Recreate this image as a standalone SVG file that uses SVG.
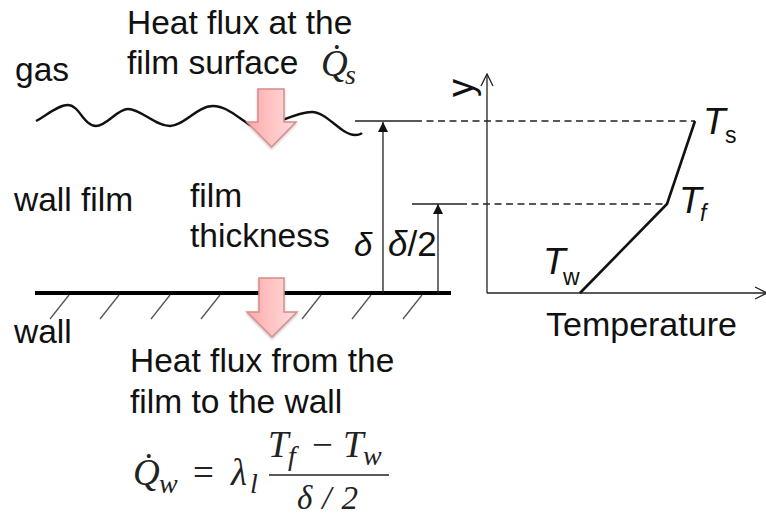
<svg xmlns="http://www.w3.org/2000/svg" width="766" height="517" viewBox="0 0 766 517">
<style>
.t{font-family:"Liberation Sans",Arial,sans-serif;font-size:33.5px;fill:#111}
.i{font-style:italic}
.m{font-family:"Liberation Serif","DejaVu Serif",serif;font-size:37px;fill:#222}
.ln{fill:none;stroke:#222;stroke-width:1.3}
.da{fill:none;stroke:#222;stroke-width:1.3;stroke-dasharray:7 4.5}
.h{fill:none;stroke:#555;stroke-width:1.3}
.ar{fill:url(#pink);stroke:#d98a8a;stroke-width:1.5;filter:url(#sh)}
</style>
<defs>
<linearGradient id="pink" x1="0" x2="1" y1="0" y2="0"><stop offset="0" stop-color="#ffa8a8"/><stop offset="0.5" stop-color="#ffc4c4"/><stop offset="1" stop-color="#ffdcdc"/></linearGradient>
<filter id="sh" x="-20%" y="-20%" width="140%" height="140%"><feDropShadow dx="0" dy="1.5" stdDeviation="1.2" flood-color="#000" flood-opacity="0.25"/></filter>
<marker id="fa" viewBox="0 0 10 10" refX="10" refY="5" markerWidth="10" markerHeight="10" markerUnits="userSpaceOnUse" orient="auto"><path d="M0 0L10 5L0 10Z" fill="#111"/></marker>
<marker id="oa" viewBox="0 0 14 14" refX="13" refY="7" markerWidth="14" markerHeight="14" markerUnits="userSpaceOnUse" orient="auto"><path d="M1 1L13 7L1 13" fill="none" stroke="#222" stroke-width="1.3"/></marker>
</defs>
<g id="connectors">
<path id="wave" fill="none" stroke="#111" stroke-width="2.4" d="M36 121C47 115 58 105 68 105C79 105 84 126 96 126C107 126 117 109 128 109C141 109 155 126 170 126C184 126 197 106 213 106C226 106 236 116 250 125C264 134 290 112 312 112C327 112 341 135 355 135Q360 135 362 133"/>
<path id="wall" fill="none" stroke="#000" stroke-width="4" d="M35 293H451"/>
<path class="h" d="M69 295L50 319M119 295L100 319M170 295L151 319M220 295L201 319M321 295L302 319M371 295L352 319M422 295L403 319"/>
<path class="ln" d="M355 121H415M412 204H460"/>
<path class="da" d="M415 121H695M460 204H667"/>
<path class="ln" marker-end="url(#fa)" d="M383 293V122"/>
<path class="ln" marker-end="url(#fa)" d="M438 293V204"/>
<path class="ln" marker-end="url(#oa)" d="M487 293V74"/>
<path class="ln" marker-end="url(#oa)" d="M487 293H767"/>
<path id="profile" fill="none" stroke="#111" stroke-width="2.6" d="M580 293L667 204L695 121"/>
</g>
<g id="top-flux"><path class="ar" d="M258 89H284V122H296L271.500 147L247 122H258Z"/></g>
<g id="wall-flux"><path class="ar" d="M259 278H284V312H297L272 337L247 312H259Z"/></g>
<g id="labels">
<text class="t" x="127" y="34">Heat flux at the</text>
<text class="t" x="127" y="74">film surface</text>
<text class="t" x="15" y="81">gas</text>
<text class="t" x="14" y="211">wall film</text>
<text class="t" x="190" y="207">film</text>
<text class="t" x="190" y="247">thickness</text>
<text class="t" x="14" y="343">wall</text>
<text class="t" x="130" y="372">Heat flux from the</text>
<text class="t" x="130" y="413">film to the wall</text>
<text class="t" x="546" y="336" style="font-size:34px">Temperature</text>
<text class="t" transform="translate(473 88) rotate(-90)" text-anchor="middle" style="font-size:36px">y</text>
<text class="t i" x="354" y="256" style="font-size:33px">δ</text>
<text class="t" x="388" y="256" style="font-size:35px"><tspan class="i">δ</tspan>/2</text>
<text class="t i" x="703" y="134" style="font-size:37px">T</text>
<text class="t" x="725" y="143" style="font-size:23px">s</text>
<text class="t i" x="679" y="213" style="font-size:37px">T</text>
<text class="t i" x="700" y="221" style="font-size:23px">f</text>
<text class="t i" x="543" y="274" style="font-size:37px">T</text>
<text class="t" x="563" y="285" style="font-size:23px">w</text>
</g>
<g id="math">
<text class="m i" x="321" y="76">Q̇</text>
<text class="m i" x="345" y="84" style="font-size:28px">s</text>
<text class="m i" x="133" y="485">Q̇</text>
<text class="m i" x="159" y="493" style="font-size:28px">w</text>
<text class="m" x="193" y="485">=</text>
<text class="m i" x="231" y="485">λ</text>
<text class="m i" x="250" y="493" style="font-size:28px">l</text>
<text class="m i" x="268" y="457">T</text>
<text class="m i" x="288" y="465" style="font-size:28px">f</text>
<text class="m" x="312" y="457">−</text>
<text class="m i" x="343" y="457">T</text>
<text class="m i" x="363" y="465" style="font-size:28px">w</text>
<path fill="none" stroke="#222" stroke-width="1.6" d="M269 475H389"/>
<text class="m i" x="297" y="509" style="font-size:33px" textLength="61">δ/2</text>
</g>
</svg>
